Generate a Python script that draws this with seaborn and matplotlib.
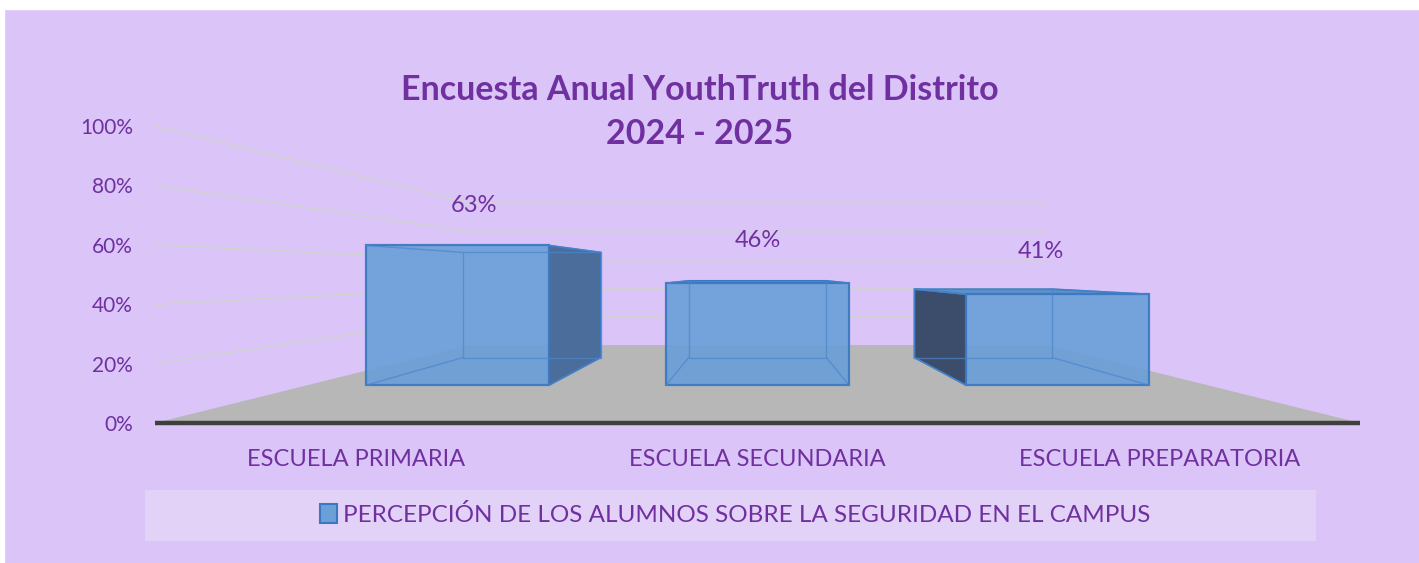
import matplotlib
matplotlib.use("Agg")
import matplotlib.pyplot as plt
import seaborn as sns
import pandas as pd
from matplotlib.patches import Rectangle, Patch, Polygon

# datos
categorias = ["ESCUELA PRIMARIA", "ESCUELA SECUNDARIA", "ESCUELA PREPARATORIA"]
valores = [63, 46, 41]
ticks_y = [0, 20, 40, 60, 80, 100]
serie = "PERCEPCIÓN DE LOS ALUMNOS SOBRE LA SEGURIDAD EN EL CAMPUS"
titulo = "Encuesta Anual YouthTruth del Distrito\n2024 - 2025"

df = pd.DataFrame({"escuela": categorias, "valor": valores})

morado = "#7030a0"
fondo = "#dac4f8"
azul = "#6b9fd8"
borde = "#3a78c2"

sns.set_theme(style="white")
plt.rcParams["font.family"] = ["Lato", "DejaVu Sans"]

W, H = 1419, 563
fig = plt.figure(figsize=(W / 100, H / 100), dpi=100, facecolor=fondo)
fig.add_artist(Rectangle((0, 1 - 9 / H), 1, 9 / H, transform=fig.transFigure, color="white", zorder=0))
fig.add_artist(Rectangle((0, 0), 4 / W, 1, transform=fig.transFigure, color="white", zorder=0))

# perspectiva tipo Excel 3D
vx, vy = 1.0, 50.3
s_frente, s_atras, s_pared = 0.747, 0.562, 0.478
ancho = 0.61
xlim = (-0.5, 2.5)
ylim = (-3, 103)
px_y = 2.97
pos = [155 / W, (H - 423 - 3 * px_y) / H, 1205 / W, 106 * px_y / H]


def P(x, v, s):
    return vx + (x - vx) * s, vy + (v - vy) * s


ax = fig.add_axes(pos)
ax.set_xlim(xlim)
ax.set_ylim(ylim)
ax.patch.set_alpha(0)

# lineas de division (pared lateral + pared del fondo)
for v in ticks_y[1:]:
    x1, y1 = P(xlim[0], v, s_pared)
    x2, y2 = P(xlim[1], v, s_pared)
    ax.plot([xlim[0], x1, x2], [v, y1, y2], color="#d2d2d2", lw=1.2, zorder=1)

# piso
piso = [P(xlim[0], 0, 1), P(xlim[1], 0, 1), P(xlim[1], 0, s_pared), P(xlim[0], 0, s_pared)]
ax.add_patch(Polygon(piso, closed=True, facecolor="#b7b7b7", edgecolor="none", zorder=2))
ax.plot(list(xlim), [0, 0], color="#3f3f3f", lw=3.2, solid_capstyle="round", zorder=2.5)

# caras laterales y superiores
for i, val in enumerate(valores):
    izq, der = i - ancho / 2, i + ancho / 2
    if der < vx:
        cara = [P(der, 0, s_frente), P(der, val, s_frente), P(der, val, s_atras), P(der, 0, s_atras)]
        ax.add_patch(Polygon(cara, facecolor="#4b6d9b", edgecolor=borde, lw=1.2, zorder=3))
    if izq > vx:
        cara = [P(izq, 0, s_frente), P(izq, val, s_frente), P(izq, val, s_atras), P(izq, 0, s_atras)]
        ax.add_patch(Polygon(cara, facecolor="#3c4c6b", edgecolor=borde, lw=1.2, zorder=3))
    if val < vy:
        tapa = [P(izq, val, s_frente), P(der, val, s_frente), P(der, val, s_atras), P(izq, val, s_atras)]
        ax.add_patch(Polygon(tapa, facecolor="#5e8fc8", edgecolor=borde, lw=1.2, zorder=3))
    ax.text(*P(i, val + 20, 0.705), f"{val}%", ha="center", va="center",
            color=morado, fontsize=17)

ax.set_yticks(ticks_y, [f"{t}%" for t in ticks_y])
ax.set_xticks(range(len(categorias)), categorias)
ax.tick_params(axis="y", length=0, pad=16, labelsize=15, labelcolor=morado)
ax.tick_params(axis="x", length=0, pad=12, labelsize=17, labelcolor=morado)
sns.despine(ax=ax, left=True, bottom=True)

# caras frontales de las barras: eje en el plano frontal de las barras
ax2 = fig.add_axes(pos)
sns.barplot(data=df, x="escuela", y="valor", ax=ax2, width=ancho, color=azul,
            saturation=1, alpha=0.92, edgecolor=borde, linewidth=1.6)
ax2.set_xlim(vx + (xlim[0] - vx) / s_frente, vx + (xlim[1] - vx) / s_frente)
ax2.set_ylim(vy + (ylim[0] - vy) / s_frente, vy + (ylim[1] - vy) / s_frente)
ax2.axis("off")

# aristas interiores vistas a traves de la cara frontal
for i, val in enumerate(valores):
    izq, der = i - ancho / 2, i + ancho / 2
    atras = [P(izq, 0, s_atras), P(der, 0, s_atras), P(der, val, s_atras), P(izq, val, s_atras), P(izq, 0, s_atras)]
    ax2.plot([p[0] for p in atras], [p[1] for p in atras], color="#4a86cc", lw=1, alpha=0.7,
             transform=ax.transData)
    for x in (izq, der):
        for v in (0, val):
            a, b = P(x, v, s_frente), P(x, v, s_atras)
            ax2.plot([a[0], b[0]], [a[1], b[1]], color="#4a86cc", lw=1, alpha=0.7,
                     transform=ax.transData)

# leyenda
fig.add_artist(Rectangle((145 / W, 22 / H), 1171 / W, 51 / H, transform=fig.transFigure,
                         facecolor="#e3d2f7", edgecolor="none", zorder=0))
fig.legend(handles=[Patch(facecolor=azul, edgecolor=borde, lw=1.5, label=serie)],
           loc="center", bbox_to_anchor=(735 / W, 48 / H), frameon=False, fontsize=17.5,
           labelcolor=morado, handlelength=0.7, handleheight=0.85, handletextpad=0.25)

fig.text(700 / W, (H - 112) / H, titulo, ha="center", va="center", fontsize=24.5,
         fontweight="bold", color=morado, linespacing=1.5)

fig.savefig("out.png", dpi=100)
